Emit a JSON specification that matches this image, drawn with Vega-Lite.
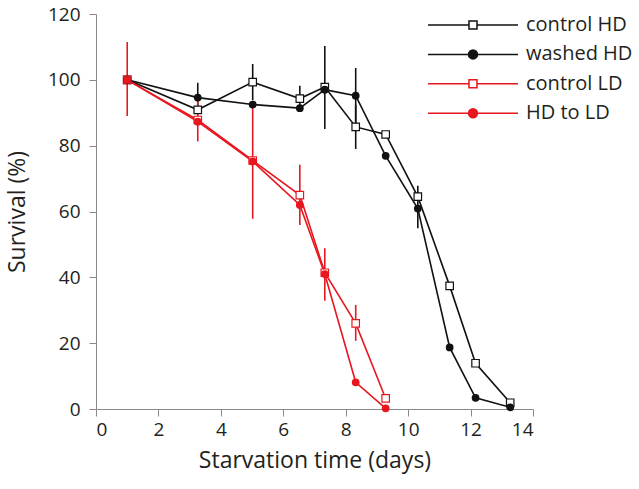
{
  "$schema": "https://vega.github.io/schema/vega-lite/v6.json",
  "width": 437,
  "height": 395,
  "autosize": {"type": "none"},
  "padding": {"left": 96, "top": 14, "right": 106, "bottom": 80},
  "config": {
    "view": {"stroke": null},
    "font": "Open Sans",
    "axis": {
      "grid": false,
      "domainColor": "#8a8a8a",
      "tickColor": "#8a8a8a",
      "tickSize": 7,
      "domainWidth": 1,
      "tickWidth": 1,
      "labelFontSize": 19,
      "labelColor": "#231f20",
      "titleFontSize": 23,
      "titleFontWeight": "normal",
      "titleColor": "#231f20"
    }
  },
  "datasets": {
    "pts": [
      {"series": "control HD", "day": 1, "surv": 100},
      {"series": "control HD", "day": 3.26, "surv": 90.9},
      {"series": "control HD", "day": 5.02, "surv": 99.3},
      {"series": "control HD", "day": 6.53, "surv": 94.3},
      {"series": "control HD", "day": 7.33, "surv": 97.8},
      {"series": "control HD", "day": 8.32, "surv": 85.7},
      {"series": "control HD", "day": 9.28, "surv": 83.4},
      {"series": "control HD", "day": 10.31, "surv": 64.5},
      {"series": "control HD", "day": 11.33, "surv": 37.4},
      {"series": "control HD", "day": 12.16, "surv": 13.9},
      {"series": "control HD", "day": 13.27, "surv": 1.9},
      {"series": "washed HD", "day": 1, "surv": 100},
      {"series": "washed HD", "day": 3.26, "surv": 94.6},
      {"series": "washed HD", "day": 5.02, "surv": 92.5},
      {"series": "washed HD", "day": 6.53, "surv": 91.4},
      {"series": "washed HD", "day": 7.33, "surv": 97.0},
      {"series": "washed HD", "day": 8.32, "surv": 95.2},
      {"series": "washed HD", "day": 9.28, "surv": 76.9},
      {"series": "washed HD", "day": 10.31, "surv": 60.9},
      {"series": "washed HD", "day": 11.33, "surv": 18.7},
      {"series": "washed HD", "day": 12.16, "surv": 3.4},
      {"series": "washed HD", "day": 13.27, "surv": 0.5},
      {"series": "control LD", "day": 1, "surv": 100},
      {"series": "control LD", "day": 3.26, "surv": 87.8},
      {"series": "control LD", "day": 5.02, "surv": 75.5},
      {"series": "control LD", "day": 6.53, "surv": 65.0},
      {"series": "control LD", "day": 7.33, "surv": 41.4},
      {"series": "control LD", "day": 8.32, "surv": 26.0},
      {"series": "control LD", "day": 9.28, "surv": 3.2},
      {"series": "HD to LD", "day": 1, "surv": 100},
      {"series": "HD to LD", "day": 3.26, "surv": 87.3},
      {"series": "HD to LD", "day": 5.02, "surv": 75.2},
      {"series": "HD to LD", "day": 6.53, "surv": 62.0},
      {"series": "HD to LD", "day": 7.33, "surv": 41.0},
      {"series": "HD to LD", "day": 8.32, "surv": 8.1},
      {"series": "HD to LD", "day": 9.28, "surv": 0.2}
    ],
    "errs": [
      {"series": "HD to LD", "day": 1, "lo": 89, "hi": 111.5},
      {"series": "washed HD", "day": 3.26, "lo": 90.1, "hi": 99.1},
      {"series": "control LD", "day": 3.26, "lo": 81.3, "hi": 94.3},
      {"series": "control HD", "day": 5.02, "lo": 93.8, "hi": 104.8},
      {"series": "control LD", "day": 5.02, "lo": 57.8, "hi": 93.2},
      {"series": "control HD", "day": 6.53, "lo": 90.3, "hi": 98.2},
      {"series": "control LD", "day": 6.53, "lo": 55.9, "hi": 74.2},
      {"series": "control HD", "day": 7.33, "lo": 85.1, "hi": 110.3},
      {"series": "control LD", "day": 7.33, "lo": 32.9, "hi": 48.8},
      {"series": "washed HD", "day": 8.32, "lo": 86.8, "hi": 103.6},
      {"series": "control HD", "day": 8.32, "lo": 79.0, "hi": 92.4},
      {"series": "control LD", "day": 8.32, "lo": 20.7, "hi": 31.6},
      {"series": "washed HD", "day": 10.31, "lo": 54.9, "hi": 67.8}
    ]
  },
  "layer": [
    {
      "data": {"name": "errs"},
      "mark": {"type": "rule", "strokeWidth": 1.6},
      "encoding": {
        "x": {"field": "day", "type": "quantitative"},
        "y": {"field": "lo", "type": "quantitative"},
        "y2": {"field": "hi"},
        "color": {"field": "series", "type": "nominal"}
      }
    },
    {
      "data": {"name": "pts"},
      "mark": {"type": "line", "strokeWidth": 1.6},
      "encoding": {
        "x": {
          "field": "day", "type": "quantitative",
          "scale": {"domain": [0, 14], "nice": false, "zero": false},
          "axis": {"values": [0, 2, 4, 6, 8, 10, 12, 14], "title": "Starvation time (days)", "labelPadding": 4, "titlePadding": 10}
        },
        "y": {
          "field": "surv", "type": "quantitative",
          "scale": {"domain": [0, 120], "nice": false},
          "axis": {"values": [0, 20, 40, 60, 80, 100, 120], "title": "Survival (%)", "labelPadding": 9, "titlePadding": 18}
        },
        "color": {
          "field": "series", "type": "nominal",
          "scale": {"domain": ["control HD", "washed HD", "control LD", "HD to LD"], "range": ["#111111", "#111111", "#e8161e", "#e8161e"]},
          "legend": {
            "title": null,
            "orient": "none",
            "legendX": 366,
            "legendY": 0,
            "padding": 0,
            "symbolSize": 400,
            "labelOffset": 42,
            "rowPadding": 8.4,
            "labelFontSize": 20,
            "labelColor": "#231f20",
            "encode": {
              "symbols": {
                "update": {
                  "shape": {"signal": "(datum.value === 'control HD' || datum.value === 'control LD') ? 'M-4.5,0H-0.4M0.4,0H4.5M-0.4,-0.4H0.4V0.4H-0.4ZM-0.4,-0.4V0.4H0.4V-0.4Z' : 'M-4.5,0H4.5M0.45,0A0.45,0.45 0 1,1 -0.45,0A0.45,0.45 0 1,1 0.45,0Z'"},
                  "stroke": {"signal": "(datum.value === 'control HD' || datum.value === 'washed HD') ? '#333333' : '#e8161e'"},
                  "strokeWidth": {"value": 1.5},
                  "opacity": {"value": 1}
                }
              }
            }
          }
        }
      }
    },
    {
      "data": {"name": "pts"},
      "transform": [{"filter": "datum.series === 'control HD' || datum.series === 'control LD'"}],
      "mark": {"type": "point", "shape": "square", "filled": false, "fill": "#ffffff", "fillOpacity": 1, "strokeWidth": 1.2, "size": 56, "opacity": 1},
      "encoding": {
        "x": {"field": "day", "type": "quantitative"},
        "y": {"field": "surv", "type": "quantitative"},
        "color": {"field": "series", "type": "nominal"}
      }
    },
    {
      "data": {"name": "pts"},
      "transform": [{"filter": "datum.series === 'washed HD' || datum.series === 'HD to LD'"}],
      "mark": {"type": "point", "shape": "circle", "filled": true, "strokeWidth": 0, "size": 60, "opacity": 1},
      "encoding": {
        "x": {"field": "day", "type": "quantitative"},
        "y": {"field": "surv", "type": "quantitative"},
        "color": {"field": "series", "type": "nominal"}
      }
    }
  ]
}
